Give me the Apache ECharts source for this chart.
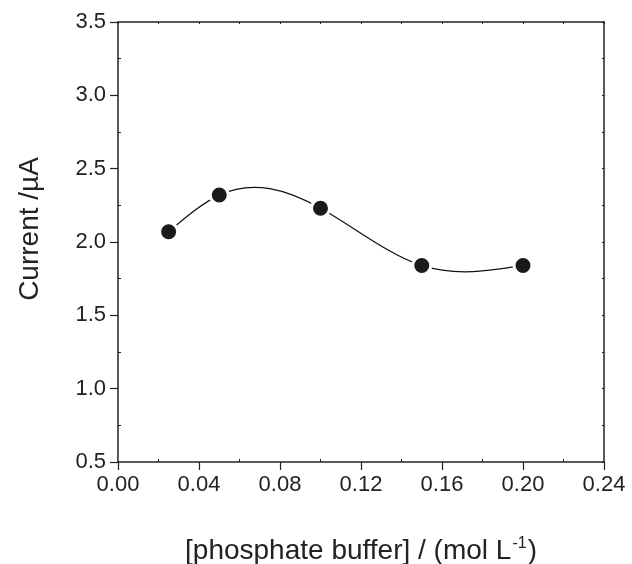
<!DOCTYPE html>
<html><head><meta charset="utf-8">
<script src="https://cdn.jsdelivr.net/npm/echarts@6/dist/echarts.min.js"></script>
<style>html,body{margin:0;padding:0;background:#fff}#c{width:632px;height:564px}</style>
</head><body><div id="c"></div>
<script>
const concentrations = [0.025, 0.05, 0.10, 0.15, 0.20];
const currents = [2.07, 2.32, 2.23, 1.84, 1.84];
const xTicks = [0, 0.24, 0.04];
const yTicks = [0.5, 3.5, 0.5];
const xTitle = '[phosphate buffer] / (mol L';
const yTitle = 'Current /µA';

// natural cubic spline slopes through the measured points (drawn as bezier segments)
function splineSlopes(x, y) {
  const n = x.length - 1, h = [], M = new Array(n + 1).fill(0);
  for (let i = 0; i < n; i++) h.push(x[i + 1] - x[i]);
  const a = [], b = [], c = [], d = [];
  for (let i = 1; i < n; i++) {
    a.push(h[i - 1]); b.push(2 * (h[i - 1] + h[i])); c.push(h[i]);
    d.push(6 * ((y[i + 1] - y[i]) / h[i] - (y[i] - y[i - 1]) / h[i - 1]));
  }
  const m = b.length;
  for (let i = 1; i < m; i++) { const w = a[i] / b[i - 1]; b[i] -= w * c[i - 1]; d[i] -= w * d[i - 1]; }
  const sol = new Array(m);
  for (let i = m - 1; i >= 0; i--) sol[i] = (d[i] - (i < m - 1 ? c[i] * sol[i + 1] : 0)) / b[i];
  for (let i = 1; i < n; i++) M[i] = sol[i - 1];
  const s = [];
  for (let i = 0; i < n; i++) s.push((y[i + 1] - y[i]) / h[i] - h[i] * (2 * M[i] + M[i + 1]) / 6);
  s.push((y[n] - y[n - 1]) / h[n - 1] + h[n - 1] * (M[n - 1] + 2 * M[n]) / 6);
  return s;
}
const slopes = splineSlopes(concentrations, currents);

const FONT = '"Liberation Sans", Arial, sans-serif';
const INK = '#222';
const chart = echarts.init(document.getElementById('c'), null, {renderer: 'canvas'});
const axisLine = {show: true, onZero: false, lineStyle: {color: INK, width: 1.5}};
const baseX = {type: 'value', min: xTicks[0], max: xTicks[1], interval: xTicks[2], splitLine: {show: false}};
const baseY = {type: 'value', min: yTicks[0], max: yTicks[1], interval: yTicks[2], splitLine: {show: false}};
const pts = concentrations.map((c, i) => [c, currents[i]]);
chart.setOption({
  animation: false,
  grid: {left: 118, right: 28, top: 22, bottom: 102, containLabel: false, outerBoundsMode: 'none'},
  xAxis: [
    Object.assign({}, baseX, {
      position: 'bottom', axisLine,
      axisTick: {show: true, inside: false, length: 8, lineStyle: {color: INK, width: 1.2}},
      axisLabel: {color: INK, fontSize: 22, fontFamily: FONT, margin: 12, formatter: v => v.toFixed(2)},
      name: '{a|' + xTitle + '}{s|-1}{a|)}', nameLocation: 'middle', nameGap: 74,
      nameTextStyle: {rich: {
        a: {fontSize: 28, fontFamily: FONT, color: INK},
        s: {fontSize: 16, fontFamily: FONT, color: INK, verticalAlign: 'top', padding: [0, 1, 14, 1]}
      }}
    }),
    Object.assign({}, baseX, {
      position: 'bottom', axisLine: {show: false},
      axisTick: {show: true, inside: true, length: 0},
      minorTick: {show: true, splitNumber: 2, length: 3, lineStyle: {color: INK, width: 1}},
      axisLabel: {show: false}
    }),
    Object.assign({}, baseX, {
      position: 'top', axisLine,
      axisTick: {show: true, inside: true, length: 2, lineStyle: {color: INK}},
      minorTick: {show: true, splitNumber: 2, length: 2, lineStyle: {color: INK}},
      axisLabel: {show: false}
    })
  ],
  yAxis: [
    Object.assign({}, baseY, {
      position: 'left', axisLine,
      axisTick: {show: true, inside: false, length: 8, lineStyle: {color: INK, width: 1.2}},
      axisLabel: {color: INK, fontSize: 22, fontFamily: FONT, margin: 12, formatter: v => v.toFixed(1)},
      name: yTitle, nameLocation: 'middle', nameGap: 74,
      nameTextStyle: {fontSize: 28, fontFamily: FONT, color: INK, padding: [0, 0, 0, 26]}
    }),
    Object.assign({}, baseY, {
      position: 'left', axisLine: {show: false},
      axisTick: {show: true, inside: true, length: 0},
      minorTick: {show: true, splitNumber: 2, length: 3, lineStyle: {color: INK, width: 1}},
      axisLabel: {show: false}
    }),
    Object.assign({}, baseY, {
      position: 'right', axisLine,
      axisTick: {show: true, inside: true, length: 2, lineStyle: {color: INK}},
      minorTick: {show: true, splitNumber: 2, length: 2, lineStyle: {color: INK}},
      axisLabel: {show: false}
    })
  ],
  series: [{
    type: 'custom',
    data: pts,
    renderItem: function (params, api) {
      const i = params.dataIndex;
      if (i >= concentrations.length - 1) return null;
      const x0 = concentrations[i], x1 = concentrations[i + 1];
      const y0 = currents[i], y1 = currents[i + 1];
      const h = (x1 - x0) / 3;
      const p0 = api.coord([x0, y0]), p1 = api.coord([x1, y1]);
      const c0 = api.coord([x0 + h, y0 + h * slopes[i]]);
      const c1 = api.coord([x1 - h, y1 - h * slopes[i + 1]]);
      return {
        type: 'bezierCurve',
        shape: {x1: p0[0], y1: p0[1], x2: p1[0], y2: p1[1], cpx1: c0[0], cpy1: c0[1], cpx2: c1[0], cpy2: c1[1]},
        style: {stroke: '#111', fill: null, lineWidth: 1.3}
      };
    },
    z: 3
  }, {
    type: 'scatter',
    data: pts,
    symbol: 'circle', symbolSize: 18,
    itemStyle: {color: '#1a1a1a', borderColor: '#fff', borderWidth: 3, opacity: 1},
    z: 5
  }]
});
</script></body></html>
